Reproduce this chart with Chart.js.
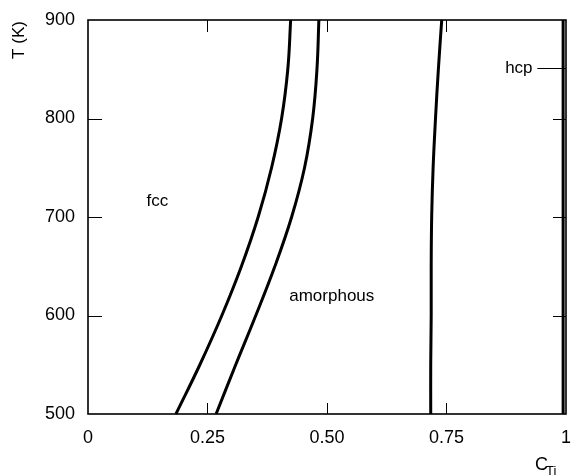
<!DOCTYPE html>
<html>
<head>
<meta charset="utf-8">
<script src="https://cdn.jsdelivr.net/npm/chart.js@4/dist/chart.umd.min.js"></script>
<style>
html,body{margin:0;padding:0;background:#fff;}
#wrap{width:576px;height:476px;}
</style>
</head>
<body>
<div id="wrap"><canvas id="c" width="576" height="476"></canvas></div>
<script>
// Temperatures (K) at which boundary compositions were read
const temps = [500, 550, 600, 650, 700, 750, 800, 850, 900];
// fcc / (fcc+amorphous) boundary
const fccBoundary = [0.184, 0.234, 0.280, 0.321, 0.356, 0.384, 0.405, 0.418, 0.424];
// (fcc+amorphous) / amorphous boundary
const amorphBoundary = [0.268, 0.309, 0.351, 0.391, 0.426, 0.453, 0.470, 0.479, 0.483];
// amorphous / (amorphous+hcp) boundary
const hcpLeftBoundary = [0.717, 0.717, 0.718, 0.718, 0.719, 0.722, 0.727, 0.733, 0.740];
// hcp boundary near pure Ti
const hcpBoundary = [0.994, 0.994, 0.994, 0.994, 0.994, 0.994, 0.994, 0.994, 0.994];

const xTicks = [0, 0.25, 0.5, 0.75, 1];
const xTickLabels = ['0', '0.25', '0.50', '0.75', '1'];
const yTicks = [500, 600, 700, 800, 900];
const yTickLabels = ['500', '600', '700', '800', '900'];

const regionLabels = [
  {text: 'fcc', x: 0.145, y: 716},
  {text: 'amorphous', x: 0.51, y: 619},
  {text: 'hcp', x: 0.93, y: 851}
];

function toPts(xs) { return temps.map((t, i) => ({x: xs[i], y: t})); }

Chart.defaults.color = '#000';
Chart.defaults.font.family = "'Liberation Sans', Arial, sans-serif";

const lineDs = (data, w) => ({
  data: toPts(data), showLine: true, borderColor: '#000', borderWidth: w,
  pointRadius: 0, tension: 0.4, fill: false, clip: false
});

const decorPlugin = {
  id: 'decor',
  afterDraw(chart) {
    const ctx = chart.ctx;
    const xs = chart.scales.x, ys = chart.scales.y;
    const a = chart.chartArea;
    ctx.save();
    ctx.strokeStyle = '#000';
    // frame
    ctx.lineWidth = 1.6;
    ctx.strokeRect(a.left, a.top, a.right - a.left, a.bottom - a.top);
    // inner ticks
    ctx.lineWidth = 1;
    ctx.beginPath();
    xTicks.forEach(v => {
      if (v === xTicks[0] || v === xTicks[xTicks.length - 1]) return;
      const px = Math.round(xs.getPixelForValue(v)) + 0.5;
      ctx.moveTo(px, a.bottom); ctx.lineTo(px, a.bottom - 11);
      ctx.moveTo(px, a.top); ctx.lineTo(px, a.top + 12);
    });
    yTicks.forEach(v => {
      if (v === yTicks[0] || v === yTicks[yTicks.length - 1]) return;
      const py = Math.round(ys.getPixelForValue(v)) + 0.5;
      ctx.moveTo(a.left, py); ctx.lineTo(a.left + 14, py);
      ctx.moveTo(a.right, py); ctx.lineTo(a.right - 13, py);
    });
    // hcp leader line
    const ly = Math.round(ys.getPixelForValue(851)) + 0.5;
    ctx.moveTo(xs.getPixelForValue(0.94), ly); ctx.lineTo(a.right, ly);
    ctx.stroke();
    // region labels
    ctx.fillStyle = '#000';
    ctx.font = "17px 'Liberation Sans', Arial, sans-serif";
    ctx.textBaseline = 'middle';
    regionLabels.forEach(l => {
      ctx.textAlign = l.text === 'hcp' ? 'right' : 'center';
      ctx.fillText(l.text, xs.getPixelForValue(l.x), ys.getPixelForValue(l.y));
    });
    // axis titles
    ctx.save();
    ctx.translate(19, 40);
    ctx.rotate(-Math.PI / 2);
    ctx.textAlign = 'center';
    ctx.font = "17px 'Liberation Sans', Arial, sans-serif";
    ctx.fillText('T (K)', 0, 0);
    ctx.restore();
    ctx.textAlign = 'left';
    ctx.font = "18px 'Liberation Sans', Arial, sans-serif";
    ctx.fillText('C', 535, 465);
    ctx.font = "13px 'Liberation Sans', Arial, sans-serif";
    ctx.fillText('Ti', 546, 471);
    ctx.restore();
  }
};

new Chart(document.getElementById('c'), {
  type: 'scatter',
  data: {
    datasets: [
      lineDs(fccBoundary, 3),
      lineDs(amorphBoundary, 3),
      lineDs(hcpLeftBoundary, 3),
      lineDs(hcpBoundary, 3)
    ]
  },
  options: {
    responsive: false,
    animation: false,
    layout: {padding: {left: 0, right: 4, top: 20, bottom: 0}},
    plugins: {legend: {display: false}, tooltip: {enabled: false}},
    scales: {
      x: {
        type: 'linear', min: 0, max: 1,
        afterBuildTicks: s => { s.ticks = xTicks.map(v => ({value: v})); },
        afterFit: s => { s.height = 62; },
        grid: {display: false},
        border: {display: false},
        ticks: {
          padding: 5, maxRotation: 0, autoSkip: false,
          font: {size: 18},
          callback: (v) => { const i = xTicks.indexOf(v); return i >= 0 ? xTickLabels[i] : ''; }
        }
      },
      y: {
        type: 'linear', min: 500, max: 900,
        afterBuildTicks: s => { s.ticks = yTicks.map(v => ({value: v})); },
        afterFit: s => { s.width = 88; },
        grid: {display: false},
        border: {display: false},
        ticks: {
          padding: 5, autoSkip: false,
          font: {size: 18},
          callback: (v) => { const i = yTicks.indexOf(v); return i >= 0 ? yTickLabels[i] : ''; }
        }
      }
    }
  },
  plugins: [decorPlugin]
});
</script>
</body>
</html>
